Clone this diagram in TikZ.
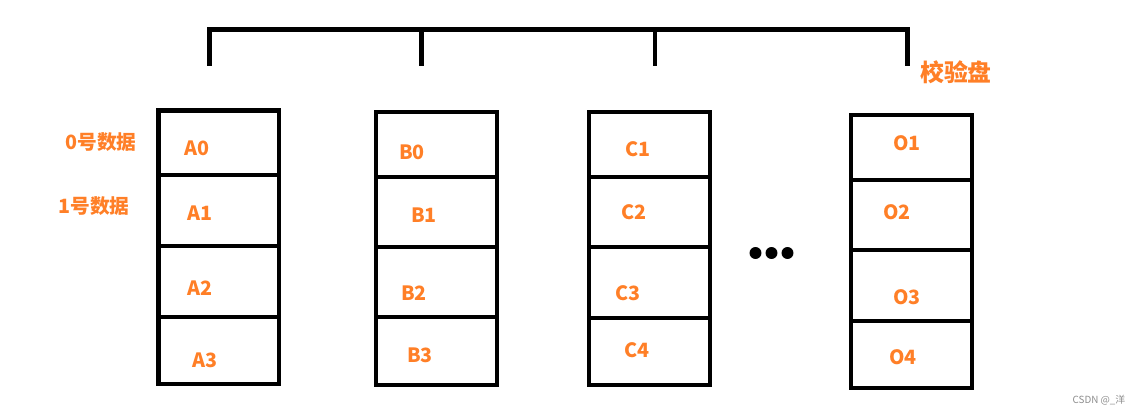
\documentclass[tikz,border=0pt]{standalone}
\usepackage{fontspec}
\setmainfont{Noto Sans CJK SC}
\usepackage{xcolor}
\definecolor{paintorange}{RGB}{255,127,39}
\usepackage{tikz}
\usetikzlibrary{positioning}

\begin{document}
\begin{tikzpicture}[x=0.025cm,y=-0.025cm]
	\useasboundingbox (0,0) rectangle (1139,414);
	\tikzset{disk/.style={draw=black,line width=3.5pt,line join=miter},
	         bar/.style={draw=black,line width=3.5pt,line cap=rect}}

	% disks
	\draw[disk] (158.5,110.5) rectangle (279,384);
	\draw[disk] (158.5,175) -- (279,175) (158.5,246) -- (279,246) (158.5,317) -- (279,317);
	\draw[disk] (376,112) rectangle (497,385);
	\draw[disk] (376,177) -- (497,177) (376,247) -- (497,247) (376,317) -- (497,317);
	\draw[disk] (589,112) rectangle (710,385);
	\draw[disk] (589,177) -- (710,177) (589,247) -- (710,247) (589,318) -- (710,318);
	\draw[disk] (851,115) rectangle (972,388);
	\draw[disk] (851,180) -- (972,180) (851,250) -- (972,250) (851,321) -- (972,321);

	% bracket over the disks
	\coordinate (tA) at (209.5,29.5);
	\coordinate (tB) at (421.5,29.5);
	\coordinate (tC) at (655,29.5);
	\coordinate (tO) at (907.5,29.5);
	\coordinate (fA) at (209.5,66);
	\coordinate (fB) at (421.5,66);
	\coordinate (fC) at (655,66);
	\coordinate (fO) at (907.5,66);
	\draw[bar] (tA) -- (tO);
	\draw[bar,line cap=butt] (tA) -- (fA) (tB) -- (fB) (tC) -- (fC) (tO) -- (fO);

	\begin{scope}[every node/.style={text=paintorange,font=\fontsize{14}{14}\selectfont\bfseries,inner sep=0pt}]
	    \node (A0) at (197,148) {A0};
	    \node (A1) at (200,213) {A1};
	    \node (A2) at (200,288) {A2};
	    \node (A3) at (205,360) {A3};
	    \node (B0) at (412,152) {B0};
	    \node (B1) at (424,215) {B1};
	    \node (B2) at (414,293) {B2};
	    \node (B3) at (420,355) {B3};
	    \node (C1) at (638,149) {C1};
	    \node (C2) at (634,212) {C2};
	    \node (C3) at (628,293) {C3};
	    \node (C4) at (637,350) {C4};
	    \node (O1) at (907,143) {O1};
	    \node (O2) at (897,212) {O2};
	    \node (O3) at (907,297) {O3};
	    \node (O4) at (903,357) {O4};
	    \node (row0) at (101,142) {0号数据};
	    \node (row1) at (94,206) {1号数据};
	    \node[font=\fontsize{17}{17}\selectfont\bfseries] (parity) at (956,72) {校验盘};
	\end{scope}

	% more disks
	\begin{scope}[every node/.style={fill=black,circle,inner sep=0pt,minimum size=8.5pt}]
	    \node (dot1) at (755.5,253) {};
	    \node (dot2) at (771.5,253) {};
	    \node (dot3) at (787.5,253) {};
	\end{scope}

	\node[text=black!45,font=\fontsize{7}{7}\selectfont,inner sep=0pt] (mark) at (1099,400) {CSDN @\_洋};
\end{tikzpicture}
\end{document}
